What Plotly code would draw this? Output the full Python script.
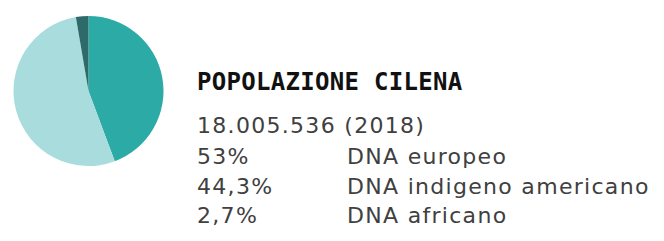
import plotly.graph_objects as go

labels = ["DNA indigeno americano", "DNA europeo", "DNA africano"]
values = [44.3, 53.0, 2.7]
colors = ["#2BAAA6", "#A8DCDD", "#2F6A6A"]

title_text = "POPOLAZIONE CILENA"
subtitle_text = "18.005.536 (2018)"
pct_labels = ["53%", "44,3%", "2,7%"]
desc_labels = ["DNA europeo", "DNA indigeno americano", "DNA africano"]

W, H = 664, 241
OFF = 8  # page body margin

def px(x):
    return (x - OFF) / W

def py(y):
    return 1 - (y - OFF) / H

fig = go.Figure()
fig.add_trace(go.Pie(
    labels=labels, values=values, sort=False, direction="clockwise", rotation=0,
    marker=dict(colors=colors, line=dict(width=0)),
    textinfo="none", hoverinfo="label+percent", showlegend=False,
    domain=dict(x=[px(9), px(168)], y=[py(166), py(16)]),
))

ann = []
ann.append(dict(x=px(195), y=py(82), text="<b>" + title_text + "</b>", showarrow=False,
                xanchor="left", yanchor="middle", align="left",
                font=dict(family="DejaVu Sans Mono", size=24, color="#111111")))
body_font = dict(family="DejaVu Sans", size=22, color="#404040")
ann.append(dict(x=px(195), y=py(125), text=subtitle_text, showarrow=False,
                xanchor="left", yanchor="middle", align="left", font=body_font))
ys = [156, 186, 215]
for p, d, y in zip(pct_labels, desc_labels, ys):
    ann.append(dict(x=px(195), y=py(y), text=p, showarrow=False, xanchor="left", yanchor="middle",
                    align="left", font=body_font))
    ann.append(dict(x=px(345), y=py(y), text=d, showarrow=False, xanchor="left", yanchor="middle",
                    align="left", font=body_font))

fig.update_layout(width=W, height=H, margin=dict(l=0, r=0, t=0, b=0),
                  paper_bgcolor="white", plot_bgcolor="white", annotations=ann)

post = """
document.querySelectorAll('.annotation-text').forEach(function(t){
  if (t.textContent.indexOf('POPOLAZIONE') < 0) { t.style.letterSpacing = '1.3px'; }
  else { t.style.letterSpacing = '0.3px'; }
});
"""
fig.write_html("out.html", post_script=post)
